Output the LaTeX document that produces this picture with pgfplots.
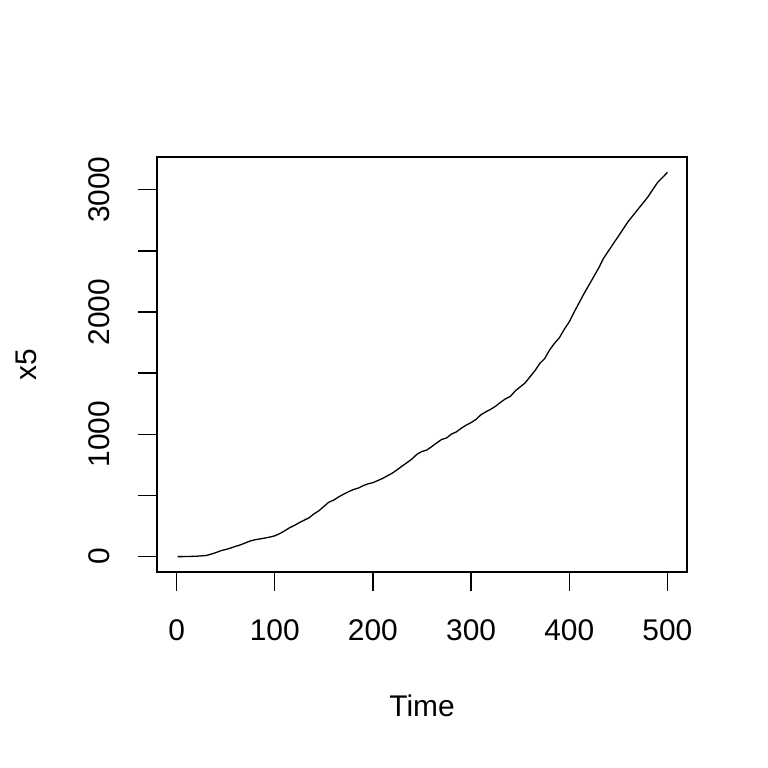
\documentclass[border=0pt]{standalone}
\usepackage{pgfplots}
\pgfplotsset{compat=1.18}
\usepackage{fontspec}
\setmainfont{Liberation Sans}
\begin{document}
\begin{tikzpicture}
\useasboundingbox (0,0) rectangle (384bp,384bp);
\begin{axis}[
    at={(78.5bp,98bp)}, anchor=south west,
    scale only axis, width=265bp, height=207.5bp,
    xmin=-19.96, xmax=519.96, ymin=-125.7, ymax=3267.7,
    xtick={0,100,...,500}, ytick={0,500,...,3000},
    yticklabels={0,,1000,,2000,,3000},
    tick align=outside, major tick length=9.5bp,
    tick style={line width=0.7bp, black},
    axis line style={line width=0.7bp},
    xtick pos=bottom, ytick pos=left,
    /pgf/number format/assume math mode=true,
    /pgf/number format/1000 sep={},
    tick label style={font=\fontsize{15}{18}\selectfont},
    xticklabel style={anchor=center},
    yticklabel style={anchor=center, rotate=90},
    xticklabel shift=19.5bp,
    yticklabel shift=19.25bp,
    xlabel={Time}, ylabel={x5},
    label style={font=\fontsize{15}{18}\selectfont},
    xlabel style={at={(axis description cs:0.5,-0.3229)}, anchor=center},
    ylabel style={at={(axis description cs:-0.2462,0.5)}, anchor=center},
]
\addplot[black, line width=0.65bp, line join=round] coordinates {
(1,0) (5,0) (10,1) (15,2) (20,3) (25,6) (30,9) (35,20) (40,33) (45,48)
(50,58) (55,70) (60,84) (65,96) (70,112) (75,128) (80,138) (85,145) (90,152) (95,160)
(100,170) (105,188) (110,210) (115,236) (120,255) (125,278) (130,298) (135,318) (140,350) (145,375)
(150,410) (155,445) (160,462) (165,488) (170,510) (175,530) (180,548) (185,560) (190,580) (195,595)
(200,605) (205,622) (210,640) (215,662) (220,684) (225,712) (230,742) (235,770) (240,800) (245,838)
(250,860) (255,872) (260,900) (265,930) (270,958) (275,970) (280,1002) (285,1020) (290,1050) (295,1075)
(300,1096) (305,1122) (310,1160) (315,1184) (320,1205) (325,1230) (330,1262) (335,1290) (340,1310) (345,1355)
(350,1388) (355,1420) (360,1470) (365,1520) (370,1580) (375,1620) (380,1690) (385,1745) (390,1790) (395,1860)
(400,1920) (405,2000) (410,2075) (415,2150) (420,2220) (425,2290) (430,2360) (435,2440) (440,2500) (445,2560)
(450,2620) (455,2680) (460,2740) (465,2790) (470,2840) (475,2890) (480,2940) (485,3000) (490,3060) (495,3100)
(500,3142)
};
\end{axis}
\end{tikzpicture}
\end{document}
